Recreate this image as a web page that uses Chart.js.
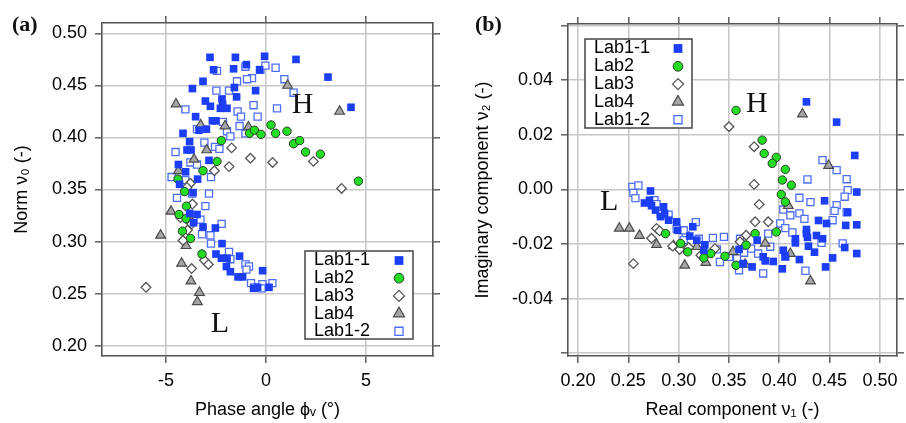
<!DOCTYPE html>
<html>
<head>
<meta charset="utf-8">
<script src="https://cdn.jsdelivr.net/npm/chart.js@4.4.1/dist/chart.umd.min.js"></script>
<style>
  html, body { margin: 0; padding: 0; background: #fff; }
  #wrap { position: relative; width: 906px; height: 423px; overflow: hidden; }
  .panel { position: absolute; top: 0; width: 453px; height: 423px; }
  .tag { position: absolute; top: 11px; line-height: 22px; font: bold 22px "Liberation Serif", "Times New Roman", serif; color: #111; }
</style>
</head>
<body>
<div id="wrap">
  <div class="panel" style="left:0"><canvas id="chartA" width="453" height="423"></canvas></div>
  <div class="panel" style="left:453px"><canvas id="chartB" width="453" height="423"></canvas></div>
  <div class="tag" style="left:12px">(a)</div>
  <div class="tag" style="left:475px">(b)</div>
</div>
<script>
const labNames = ['Lab1-1', 'Lab2', 'Lab3', 'Lab4', 'Lab1-2'];

// (a) phase angle (deg) vs norm
const aLab11 = [[-2.8,0.477],[-1.53,0.477],[-0.07,0.478],[1.5,0.475],[-2.62,0.465],[-1.62,0.466],[-0.98,0.470],[-0.32,0.465],[3.1,0.458],[-3.15,0.454],[-3.68,0.447],[-1.58,0.448],[-0.52,0.445],[-3.03,0.435],[-2.78,0.430],[-2.2,0.437],[-2.17,0.432],[-1.47,0.439],[-2.28,0.428],[-1.95,0.428],[4.25,0.429],[-3.52,0.420],[-2.68,0.416],[-2.52,0.416],[-3.35,0.407],[-2.98,0.408],[-4.15,0.404],[-3.82,0.396],[-3.95,0.388],[-3.75,0.388],[-2.85,0.378],[-4.38,0.374],[-4.02,0.367],[-3.42,0.360],[-4.32,0.355],[-3.65,0.347],[-3.82,0.327],[-3.45,0.326],[-3.62,0.318],[-3.15,0.314],[-2.53,0.313],[-2.2,0.298],[-2.5,0.288],[-2.23,0.284],[-1.95,0.284],[-1.32,0.286],[-1.98,0.276],[-1.78,0.271],[-1.4,0.266],[-1.17,0.266],[-0.17,0.272],[-0.62,0.255],[-0.42,0.256],[0.15,0.256]];
const aLab2 = [[0.25,0.412],[-0.82,0.404],[-0.58,0.407],[-0.25,0.403],[0.48,0.404],[1.05,0.406],[1.38,0.394],[1.68,0.397],[1.98,0.386],[2.72,0.384],[4.62,0.358],[-2.23,0.397],[-2.45,0.377],[-3.15,0.368],[-4.4,0.360],[-4.07,0.348],[-3.98,0.334],[-4.35,0.326],[-4.0,0.322],[-4.18,0.310],[-3.77,0.303],[-3.2,0.288]];
const aLab3 = [[-1.72,0.390],[-0.78,0.380],[0.33,0.376],[2.37,0.377],[-1.85,0.372],[-2.58,0.368],[3.78,0.351],[-3.78,0.356],[-3.95,0.352],[-3.68,0.336],[-4.28,0.323],[-3.92,0.311],[-3.72,0.317],[-4.15,0.301],[-3.72,0.274],[-3.08,0.282],[-2.88,0.278],[-6.0,0.256]];
const aLab4 = [[1.08,0.450],[3.68,0.425],[-4.5,0.432],[-3.27,0.412],[-2.05,0.411],[-0.88,0.410],[-2.97,0.388],[-3.6,0.379],[-4.38,0.368],[-4.75,0.329],[-5.27,0.306],[-4.0,0.296],[-3.75,0.320],[-4.22,0.279],[-3.75,0.262],[-3.33,0.251],[-3.43,0.242]];
const aLab12 = [[-2.45,0.464],[-1.03,0.468],[-0.28,0.465],[-0.03,0.469],[0.48,0.467],[-0.7,0.457],[-0.95,0.456],[-1.45,0.454],[0.92,0.456],[1.38,0.443],[-2.48,0.445],[-1.85,0.445],[-4.03,0.427],[-1.42,0.425],[-0.62,0.431],[0.55,0.428],[-1.25,0.420],[-0.42,0.420],[-2.15,0.415],[-1.32,0.411],[-3.45,0.408],[-1.95,0.406],[-1.03,0.404],[-1.78,0.401],[-3.08,0.395],[-2.55,0.391],[-2.33,0.389],[-4.52,0.386],[-3.78,0.376],[-3.45,0.374],[-4.72,0.362],[-2.75,0.362],[-4.03,0.359],[-4.45,0.342],[-3.7,0.346],[-2.85,0.346],[-3.03,0.334],[-3.28,0.321],[-2.22,0.317],[-3.2,0.307],[-2.78,0.306],[-2.75,0.298],[-1.85,0.290],[-1.78,0.283],[-1.03,0.278],[-0.85,0.276],[-0.98,0.273],[-0.75,0.260],[-0.58,0.256],[-0.18,0.259],[-0.22,0.255],[0.32,0.260]];

// (b) real vs imaginary component
const bLab11 = [[0.427,0.032],[0.457,0.0246],[0.475,0.0124],[0.477,-0.001],[0.445,-0.0042],[0.439,-0.0114],[0.447,-0.0125],[0.468,-0.0084],[0.477,-0.013],[0.466,-0.0132],[0.427,-0.0147],[0.427,-0.0162],[0.437,-0.0169],[0.443,-0.0181],[0.428,-0.0176],[0.416,-0.0181],[0.416,-0.0196],[0.429,-0.0208],[0.435,-0.023],[0.465,-0.0213],[0.477,-0.0235],[0.453,-0.0251],[0.446,-0.0284],[0.420,-0.0257],[0.403,-0.0291],[0.394,-0.0264],[0.386,-0.0262],[0.384,-0.0247],[0.378,-0.0186],[0.373,-0.0284],[0.364,-0.0272],[0.360,-0.022],[0.404,-0.0223],[0.406,-0.0245],[0.272,-0.0006],[0.271,-0.004],[0.266,-0.005],[0.273,-0.006],[0.277,-0.0076],[0.285,-0.0064],[0.286,-0.0088],[0.282,-0.010],[0.290,-0.0113],[0.298,-0.0119],[0.314,-0.0137],[0.311,-0.0171],[0.318,-0.0186],[0.326,-0.0203],[0.325,-0.0223],[0.299,-0.015]];
const bLab2 = [[0.357,0.0289],[0.383,0.018],[0.385,0.0131],[0.397,0.0117],[0.393,0.0095],[0.406,0.0073],[0.403,0.0034],[0.412,0.0015],[0.402,-0.0019],[0.406,-0.0046],[0.397,-0.0156],[0.376,-0.0162],[0.367,-0.0204],[0.357,-0.0278],[0.346,-0.0245],[0.332,-0.0235],[0.325,-0.0251],[0.309,-0.0229],[0.302,-0.0198],[0.287,-0.0162]];
const bLab3 = [[0.350,0.0229],[0.375,0.0156],[0.375,0.0018],[0.380,-0.0055],[0.376,-0.0119],[0.389,-0.0119],[0.367,-0.0168],[0.361,-0.0192],[0.255,-0.0272],[0.273,-0.0179],[0.278,-0.0143],[0.281,-0.0152],[0.294,-0.0208],[0.301,-0.022],[0.310,-0.0213],[0.322,-0.0241],[0.336,-0.0217]];
const bLab4 = [[0.423,0.0275],[0.449,0.0087],[0.409,-0.006],[0.411,-0.0235],[0.386,-0.0198],[0.431,-0.0336],[0.366,-0.0275],[0.241,-0.0143],[0.251,-0.0143],[0.261,-0.0169],[0.278,-0.0202],[0.295,-0.0207],[0.306,-0.0278],[0.318,-0.021],[0.327,-0.0268],[0.354,-0.0229]];
const bLab12 = [[0.443,0.0107],[0.457,0.007],[0.467,0.0037],[0.468,-0.0003],[0.465,-0.0027],[0.428,0.0036],[0.420,-0.0031],[0.431,-0.0047],[0.457,-0.0058],[0.455,-0.0079],[0.467,-0.0084],[0.453,-0.0113],[0.404,-0.0074],[0.411,-0.0095],[0.420,-0.0088],[0.425,-0.0108],[0.401,-0.0125],[0.406,-0.0142],[0.413,-0.0158],[0.442,-0.0196],[0.463,-0.0198],[0.426,-0.0298],[0.384,-0.0308],[0.391,-0.021],[0.389,-0.0162],[0.406,-0.0247],[0.372,-0.0217],[0.361,-0.0181],[0.345,-0.0174],[0.334,-0.0178],[0.320,-0.0181],[0.307,-0.0169],[0.317,-0.012],[0.298,-0.0145],[0.305,-0.015],[0.341,-0.0266],[0.350,-0.0247],[0.360,-0.0296],[0.358,-0.0253],[0.365,-0.0232],[0.379,-0.0235],[0.254,0.0009],[0.260,0.0014],[0.255,-0.0013],[0.257,-0.0032],[0.276,-0.004],[0.278,-0.0054],[0.282,-0.0089],[0.290,-0.0093],[0.305,-0.0186],[0.338,-0.022]];

const aXTicks = [-5, 0, 5];
const aYTicks = [0.20, 0.25, 0.30, 0.35, 0.40, 0.45, 0.50];
const bXTicks = [0.20, 0.25, 0.30, 0.35, 0.40, 0.45, 0.50];
const bYTicks = [-0.06, -0.04, -0.02, 0.00, 0.02, 0.04, 0.06];

const aNotes = [['H', 1.83, 0.431], ['L', -2.3, 0.221]];
const bNotes = [['H', 0.3776, 0.0311], ['L', 0.231, -0.0046]];

const SANS = '"Liberation Sans", Arial, sans-serif';
const SERIF = '"Liberation Serif", "Times New Roman", serif';
const FS = 18;

const markStyles = [
  { pointStyle: 'rect',     pointRadius: 5.4, pointBackgroundColor: '#1b3ef6', pointBorderColor: '#1b3ef6', pointBorderWidth: 0 },
  { pointStyle: 'circle',   pointRadius: 4.2, pointBackgroundColor: '#22dd22', pointBorderColor: '#2b3b2b', pointBorderWidth: 1 },
  { pointStyle: 'rectRot',  pointRadius: 4.8, pointBackgroundColor: '#ffffff', pointBorderColor: '#555555', pointBorderWidth: 1.3 },
  { pointStyle: 'triangle', pointRadius: 5.6, pointBackgroundColor: '#a6a6a6', pointBorderColor: '#4a4a4a', pointBorderWidth: 1.2 },
  { pointStyle: 'rect',     pointRadius: 5.0, pointBackgroundColor: '#ffffff', pointBorderColor: '#4d6ef5', pointBorderWidth: 1.3 }
];

function toXY(arr) { return arr.map(([x, y]) => ({ x, y })); }

// H / L letters placed at data coordinates
const notesPlugin = {
  id: 'notes',
  afterDatasetsDraw(chart, args, opts) {
    const { ctx, scales } = chart;
    ctx.save();
    ctx.font = '30px ' + SERIF;
    ctx.fillStyle = '#111';
    ctx.textAlign = 'center';
    ctx.textBaseline = 'middle';
    for (const [t, x, y] of opts.items || []) {
      ctx.fillText(t, scales.x.getPixelForValue(x), scales.y.getPixelForValue(y));
    }
    ctx.restore();
  }
};

// boxed legend: text on the left, marker on the right
const boxLegendPlugin = {
  id: 'boxLegend',
  afterDraw(chart, args, o) {
    const { ctx } = chart;
    ctx.save();
    ctx.fillStyle = '#fff';
    ctx.fillRect(o.x, o.y, o.w, o.h);
    ctx.strokeStyle = '#444';
    ctx.lineWidth = 1.5;
    ctx.strokeRect(o.x, o.y, o.w, o.h);
    ctx.font = FS + 'px ' + SANS;
    ctx.textAlign = 'left';
    ctx.textBaseline = 'middle';
    chart.data.datasets.forEach((ds, i) => {
      const yy = o.y + o.first + i * o.step;
      ctx.fillStyle = '#000';
      ctx.fillText(ds.label, o.x + 9, yy);
      ctx.fillStyle = ds.pointBackgroundColor;
      ctx.strokeStyle = ds.pointBorderColor;
      ctx.lineWidth = ds.pointBorderWidth;
      Chart.helpers.drawPoint(ctx, {
        pointStyle: ds.pointStyle, radius: ds.pointRadius * 1.15, rotation: 0, borderWidth: ds.pointBorderWidth
      }, o.markX, yy);
    });
    ctx.restore();
  }
};

function axis(pos, min, max, tickVals, fmt, size, title, titlePad, showLabels) {
  const horiz = pos === 'top' || pos === 'bottom';
  const main = pos === 'bottom' || pos === 'left';
  return {
    type: 'linear',
    position: pos,
    min, max,
    afterBuildTicks: (s) => { s.ticks = tickVals.map(v => ({ value: v })); },
    afterFit: (s) => { if (horiz) s.height = size; else s.width = size; },
    ticks: {
      display: showLabels,
      autoSkip: false,
      maxRotation: 0,
      padding: horiz ? 7 : 8,
      color: '#000',
      font: { family: SANS, size: FS },
      callback: fmt
    },
    grid: {
      drawOnChartArea: main,
      color: '#c8c8c8',
      lineWidth: 1.6,
      tickColor: '#555',
      tickLength: 7,
      tickWidth: 1.4
    },
    border: { display: true, color: '#555', width: 1.6 },
    title: title ? {
      display: true, text: title, color: '#000',
      font: { family: SANS, size: FS },
      padding: horiz ? { top: 0, bottom: titlePad } : { top: titlePad, bottom: 0 }
    } : { display: false }
  };
}

function makeDatasets(series) {
  return series.map((pts, i) => Object.assign({ label: labNames[i], data: toXY(pts) }, markStyles[i]));
}

const fmtA_x = (v) => String(v);
const fmt2 = (v) => Number(v).toFixed(2);
const fmtB_y = (v) => (Math.abs(v) > 0.05 ? '' : Number(v).toFixed(2));

new Chart(document.getElementById('chartA'), {
  type: 'scatter',
  data: { datasets: makeDatasets([aLab11, aLab2, aLab3, aLab4, aLab12]) },
  options: {
    responsive: false,
    animation: false,
    events: [],
    layout: { padding: 0 },
    scales: {
      x:  axis('bottom', -8.2, 8.35, aXTicks, fmtA_x, 67, 'Phase angle \u03d5\u1d65 (\u00b0)', 2, true),
      x2: axis('top', -8.2, 8.35, aXTicks, fmtA_x, 23, null, 0, false),
      y:  axis('left', 0.19, 0.51, aYTicks, fmt2, 102, 'Norm \u03bd\u2080 (-)', 11, true),
      y2: axis('right', 0.19, 0.51, aYTicks, fmt2, 20, null, 0, false)
    },
    plugins: {
      legend: { display: false },
      tooltip: { enabled: false },
      notes: { items: aNotes },
      boxLegend: { x: 305, y: 251, w: 108, h: 88, first: 9.5, step: 17.7, markX: 399 }
    }
  },
  plugins: [notesPlugin, boxLegendPlugin]
});

new Chart(document.getElementById('chartB'), {
  type: 'scatter',
  data: { datasets: makeDatasets([bLab11, bLab2, bLab3, bLab4, bLab12]) },
  options: {
    responsive: false,
    animation: false,
    events: [],
    layout: { padding: 0 },
    scales: {
      x:  axis('bottom', 0.19, 0.517, bXTicks, fmt2, 67, 'Real component \u03bd\u2081 (-)', 2, true),
      x2: axis('top', 0.19, 0.517, bXTicks, fmt2, 24, null, 0, false),
      y:  axis('left', -0.061, 0.0605, bYTicks, fmtB_y, 115, 'Imaginary component \u03bd\u2082 (-)', 19, true),
      y2: axis('right', -0.061, 0.0605, bYTicks, fmtB_y, 9, null, 0, false)
    },
    plugins: {
      legend: { display: false },
      tooltip: { enabled: false },
      notes: { items: bNotes },
      boxLegend: { x: 132, y: 39, w: 107, h: 89, first: 9.5, step: 17.8, markX: 225 }
    }
  },
  plugins: [notesPlugin, boxLegendPlugin]
});
</script>
</body>
</html>
